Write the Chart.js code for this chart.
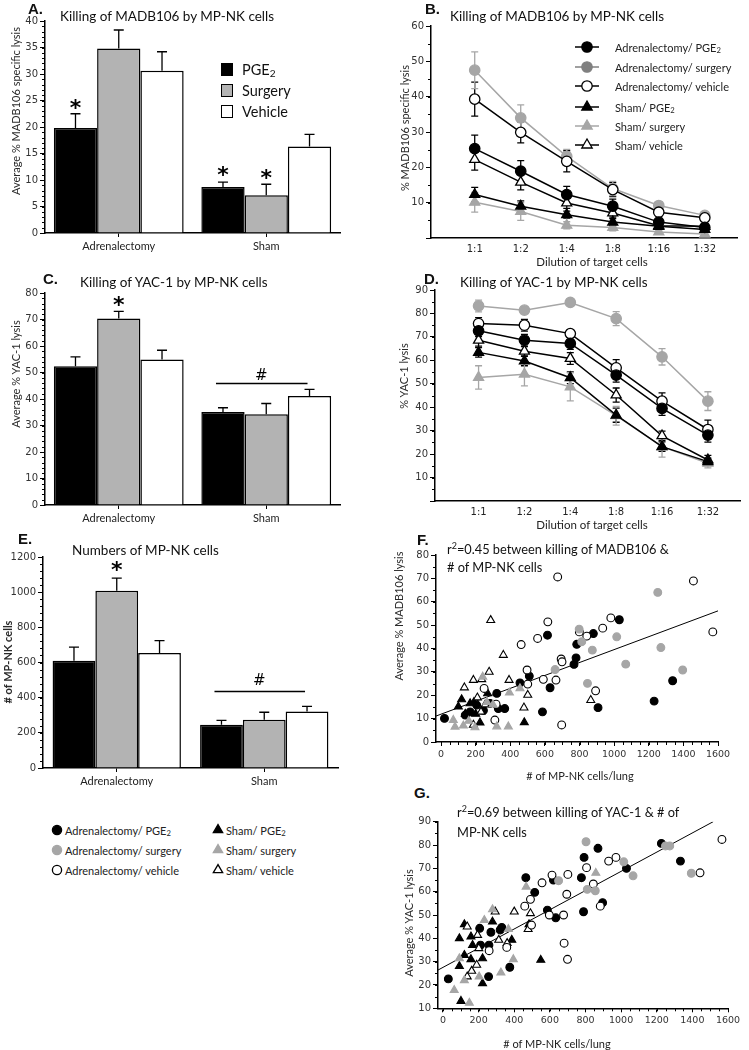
<!DOCTYPE html>
<html>
<head>
<meta charset="utf-8">
<script src="https://cdn.jsdelivr.net/npm/chart.js@4.4.0/dist/chart.umd.min.js"></script>
<style>
  body { margin: 0; background: #fff; }
  #page { position: relative; width: 749px; height: 1050px; overflow: hidden; background: #fff; font-family: Lato, sans-serif; color: #111; }
  #page canvas { position: absolute; }
  .t { position: absolute; white-space: nowrap; line-height: 1; }
  .t sub { font-size: 70%; vertical-align: -0.25em; line-height: 0; }
  .t sup { font-size: 70%; vertical-align: 0.5em; line-height: 0; }
</style>
</head>
<body>
<div id="page"></div>
<script>
// ---- data ----
const groups = ['Adrenalectomy', 'Sham'];
const barSeries = ['PGE2', 'Surgery', 'Vehicle'];

// A: average % MADB106 specific lysis
const madbPge = [19.8, 8.7];
const madbSurg = [34.8, 7.1];
const madbVeh = [30.6, 16.3];
const madbPgeSem = [2.7, 0.9];
const madbSurgSem = [3.5, 2.1];
const madbVehSem = [3.6, 2.3];

// C: average % YAC-1 lysis
const yacPge = [52.4, 35.1];
const yacSurg = [70.4, 34.2];
const yacVeh = [54.9, 41.1];
const yacPgeSem = [3.5, 1.6];
const yacSurgSem = [2.7, 4.1];
const yacVehSem = [3.5, 2.5];

// E: numbers of MP-NK cells
const nkPge = [610, 246];
const nkSurg = [1008, 275];
const nkVeh = [654, 322];
const nkPgeSem = [78, 25];
const nkSurgSem = [72, 42];
const nkVehSem = [70, 29];

// B / D: dilution curves
const dilutions = ['1:1', '1:2', '1:4', '1:8', '1:16', '1:32'];
const bAdrPge = [25.3, 18.9, 12.3, 9.0, 4.5, 3.0];
const bAdrSurg = [47.5, 34.0, 23.1, 14.0, 9.2, 6.4];
const bAdrVeh = [39.3, 29.9, 21.7, 13.7, 7.3, 5.7];
const bShamPge = [12.3, 9.0, 6.6, 4.5, 3.3, 2.4];
const bShamSurg = [10.1, 7.5, 3.6, 3.0, 1.7, 1.1];
const bShamVeh = [22.2, 15.8, 9.9, 7.1, 3.5, 3.3];
const bAdrPgeSem = [3.8, 3.0, 2.3, 2.0, 1.5, 1.0];
const bAdrSurgSem = [5.2, 3.7, 2.0, 2.0, 1.0, 0.8];
const bAdrVehSem = [4.8, 3.0, 3.0, 2.0, 1.0, 0.8];
const bShamPgeSem = [2.0, 1.5, 1.0, 1.0, 0.8, 0.5];
const bShamSurgSem = [2.8, 2.5, 1.0, 1.0, 0.5, 0.5];
const bShamVehSem = [3.0, 2.2, 1.5, 1.2, 0.8, 0.5];

const dAdrPge = [72.6, 68.6, 67.2, 53.7, 39.5, 28.1];
const dAdrSurg = [83.2, 81.4, 84.7, 77.8, 61.5, 42.6];
const dAdrVeh = [75.7, 75.0, 71.4, 56.8, 42.6, 30.5];
const dShamPge = [63.4, 59.7, 52.6, 36.6, 23.2, 16.8];
const dShamSurg = [52.7, 54.1, 48.7, 36.4, 23.2, 16.1];
const dShamVeh = [68.6, 63.9, 60.8, 45.2, 27.8, 17.5];
const dAdrPgeSem = [2.5, 2.5, 2.5, 3.0, 3.0, 3.0];
const dAdrSurgSem = [2.5, 1.5, 1.0, 3.0, 3.5, 4.0];
const dAdrVehSem = [2.5, 2.5, 1.5, 3.5, 3.5, 4.0];
const dShamPgeSem = [2.0, 2.0, 2.5, 3.0, 2.0, 1.5];
const dShamSurgSem = [5.0, 5.0, 6.0, 4.0, 4.5, 2.0];
const dShamVehSem = [2.5, 2.0, 2.5, 3.0, 2.0, 2.0];

// F: MADB106 lysis vs MP-NK cells/lung  [cells, lysis]
const fAdrPge = [[20,10.1],[322,20.8],[331,14.3],[368,14.3],[456,25.3],[510,28.2],[586,12.9],[615,45.7],[630,23.2],[768,33.2],[780,36],[784,41.8],[880,46.4],[1030,52.3],[907,14.7],[1338,26.2],[1231,17.5],[168,12.9],[206,15.8],[283,16.5],[245,13.5],[140,11.5]];
const fAdrSurg = [[659,31],[798,48.3],[813,42.9],[846,25.1],[874,39.3],[1015,45],[1067,33.3],[1252,64],[1270,40.4],[1396,30.8]];
const fAdrVeh = [[674,70.6],[617,51.4],[558,44.3],[463,41.7],[497,30.8],[501,24.8],[591,26.8],[664,26.5],[694,35.5],[699,34.3],[697,7.3],[249,22.9],[318,16.2],[311,9.4],[799,47.1],[842,45.3],[934,48.7],[981,53.1],[1458,68.9],[1570,47.1],[893,21.9]];
const fShamPge = [[119,18.2],[168,16.5],[225,8.3],[269,20.8],[481,8.4],[100,15.1],[140,12],[200,12],[190,17]];
const fShamSurg = [[81,6.5],[129,7],[196,6.2],[322,6.6],[389,6.6],[71,9.4],[241,27.9],[395,21.1],[456,22.9],[160,9],[265,17],[300,16]];
const fShamVeh = [[287,52.1],[360,37.2],[278,30],[187,26.5],[235,26.8],[135,23.3],[393,26.5],[501,20.1],[479,14.7],[231,12.9],[187,7.3],[865,17.9],[210,19],[255,16]];
const fFitX = [-29, 1600];
const fFitY = [11.1, 56.1];

// G: YAC-1 lysis vs MP-NK cells/lung
const gAdrPge = [[30,22.6],[256,23.6],[375,27.6],[465,66],[515,59.7],[586,52.1],[633,48.8],[620,65],[777,66],[792,74.7],[789,51.4],[330,44.7],[321,43.6],[269,42.6],[206,44.3],[211,37.1],[258,37.1],[870,78.6],[1030,70],[1226,80.7],[1333,73.1],[896,55.3]];
const gAdrSurg = [[803,81.4],[1015,72.8],[1067,66.8],[1249,79.6],[1273,79.6],[1394,67.9],[810,61],[855,60.4],[649,64.7]];
const gAdrVeh = [[1566,82.4],[1443,68.1],[971,74.7],[930,73.1],[806,70.3],[844,63.3],[883,53.8],[612,67.1],[701,67.4],[556,63.8],[695,58.9],[491,56.7],[459,53.8],[597,50],[677,50],[497,45.7],[680,37.9],[699,31],[259,34.7],[358,36.1]];
const gShamPge = [[92,40],[120,46],[157,40.7],[166,37.1],[278,47.1],[386,39.3],[483,46],[549,30.7],[101,13.1],[222,20.7],[92,28.1],[120,32.8],[157,31],[222,31.4]];
const gShamSurg = [[467,62.1],[278,52.4],[232,47.8],[367,43.9],[63,17.8],[148,12.3],[92,31.4],[203,23.6],[325,25.3],[395,31],[120,22],[858,68]];
const gShamVeh = [[293,51.4],[400,51.4],[491,50.7],[478,43.9],[136,45],[194,41.4],[201,35.7],[313,39.3],[360,37.9],[136,23.6],[189,28.6],[161,26]];
const gFitX = [-28, 1517];
const gFitY = [26.4, 90];

// ---- helpers ----
const page = document.getElementById('page');
const GRAY = '#a6a6a6';
const axisBorder = { color: '#000', width: 1.5 };
Chart.defaults.font.family = 'Lato, sans-serif';

function mkCanvas(box) {
  const c = document.createElement('canvas');
  c.width = box.w; c.height = box.h;
  c.style.left = box.x + 'px'; c.style.top = box.y + 'px';
  c.style.width = box.w + 'px'; c.style.height = box.h + 'px';
  page.appendChild(c);
  return c;
}

function txt(html, x, y, css, anchor) {
  const d = document.createElement('div');
  d.className = 't';
  d.innerHTML = html;
  d.style.cssText += css || '';
  d.style.left = x + 'px';
  d.style.top = y + 'px';
  if (anchor === 'c') d.style.transform = 'translate(-50%,-50%)';
  else if (anchor === 'v') d.style.transform = 'translate(-50%,-50%) rotate(-90deg)';
  else d.style.transform = 'translateY(-50%)';
  page.appendChild(d);
}

// error bars (SEM) drawn from each dataset's "sem" array
const errorBars = {
  id: 'errorBars',
  beforeDatasetsDraw(chart) {
    const ctx = chart.ctx;
    chart.data.datasets.forEach((ds, i) => {
      if (!ds.sem) return;
      const meta = chart.getDatasetMeta(i);
      const ys = chart.scales[meta.yAxisID];
      ctx.save();
      ctx.strokeStyle = ds.semColor || '#000';
      ctx.lineWidth = 1.3;
      meta.data.forEach((el, j) => {
        const raw = ds.data[j];
        const v = typeof raw === 'object' ? raw.y : raw;
        const e = ds.sem[j];
        const top = ys.getPixelForValue(v + e);
        const bot = ys.getPixelForValue(ds.semBoth ? v - e : v);
        const cap = ds.semCap || 5;
        ctx.beginPath();
        ctx.moveTo(el.x, top); ctx.lineTo(el.x, bot);
        ctx.moveTo(el.x - cap, top); ctx.lineTo(el.x + cap, top);
        if (ds.semBoth) { ctx.moveTo(el.x - cap, bot); ctx.lineTo(el.x + cap, bot); }
        ctx.stroke();
      });
      ctx.restore();
    });
  }
};

// small minor ticks outside the axes
const minorTicks = {
  id: 'minorTicks',
  afterDraw(chart, args, opts) {
    const ctx = chart.ctx, a = chart.chartArea;
    ctx.save();
    ctx.strokeStyle = '#000';
    ctx.lineWidth = 1;
    if (opts.y) {
      const s = chart.scales.y;
      for (let v = s.min; v <= s.max + 1e-9; v += opts.y) {
        const p = Math.round(s.getPixelForValue(v)) + 0.5;
        ctx.beginPath(); ctx.moveTo(a.left - 3, p); ctx.lineTo(a.left, p); ctx.stroke();
      }
    }
    if (opts.x) {
      const s = chart.scales.x;
      for (let v = Math.ceil(s.min / opts.x) * opts.x; v <= s.max + 1e-9; v += opts.x) {
        const p = Math.round(s.getPixelForValue(v)) + 0.5;
        ctx.beginPath(); ctx.moveTo(p, a.bottom); ctx.lineTo(p, a.bottom + 3); ctx.stroke();
      }
    }
    ctx.restore();
  }
};

// significance marks: asterisks over bars, "#" with a bar over the sham group
const marks = {
  id: 'marks',
  afterDatasetsDraw(chart, args, opts) {
    const ctx = chart.ctx, ys = chart.scales.y;
    ctx.save();
    ctx.fillStyle = '#000';
    ctx.strokeStyle = '#000';
    ctx.textAlign = 'center';
    ctx.textBaseline = 'middle';
    (opts.stars || []).forEach(m => {
      const el = chart.getDatasetMeta(m[0]).data[m[1]];
      ctx.font = 'bold 22px "DejaVu Sans"';
      ctx.fillText('*', el.x, ys.getPixelForValue(m[2]) + 5);
    });
    if (opts.hash) {
      const a = chart.getDatasetMeta(0).data[1];
      const g = chart.getDatasetMeta(1).data[1];
      const b = chart.getDatasetMeta(2).data[1];
      const ly = Math.round(ys.getPixelForValue(opts.hash[1])) + 0.5;
      ctx.lineWidth = 1.3;
      ctx.beginPath(); ctx.moveTo(a.x - 7, ly); ctx.lineTo(b.x - 2, ly); ctx.stroke();
      ctx.font = '15px "DejaVu Sans"';
      ctx.fillText('#', g.x - 5, ys.getPixelForValue(opts.hash[0]));
    }
    ctx.restore();
  }
};

function baseOptions(box, plot, scales, pluginOpts) {
  return {
    responsive: false,
    animation: false,
    devicePixelRatio: 1,
    layout: { padding: { left: 0, top: plot.t - box.y, right: box.x + box.w - plot.r, bottom: 0 } },
    plugins: Object.assign({ legend: { display: false }, tooltip: { enabled: false } }, pluginOpts || {}),
    scales: scales
  };
}

function yScale(box, plot, min, max, step, cb) {
  return {
    min: min, max: max,
    ticks: { stepSize: step, color: '#333', font: { family: 'DejaVu Sans', size: 10 }, padding: 2, callback: cb || (v => v) },
    grid: { drawOnChartArea: false, tickLength: 5, color: '#000' },
    border: axisBorder,
    afterFit: s => { s.width = plot.l - box.x; }
  };
}

function barPanel(box, plot, vals, sems, yMax, yStep, minor, catPct, markOpts) {
  const fills = ['#000', '#b3b3b3', '#fff'];
  return new Chart(mkCanvas(box), {
    type: 'bar',
    data: {
      labels: groups,
      datasets: barSeries.map((name, k) => ({
        label: name, data: vals[k], sem: sems[k],
        backgroundColor: fills[k], borderColor: '#000', borderWidth: 1.5,
        categoryPercentage: catPct, barPercentage: 1
      }))
    },
    options: baseOptions(box, plot, {
      x: {
        grid: { offset: false, drawOnChartArea: false, tickLength: 4, color: '#000' },
        border: axisBorder,
        ticks: { color: '#222', font: { family: 'Lato', size: 11 }, padding: 3 },
        afterFit: s => { s.height = box.y + box.h - plot.b; }
      },
      y: yScale(box, plot, 0, yMax, yStep)
    }, { minorTicks: { y: minor }, marks: markOpts }),
    plugins: [errorBars, minorTicks, marks]
  });
}

function dilutionPanel(box, plot, series, yMax) {
  return new Chart(mkCanvas(box), {
    type: 'line',
    data: {
      datasets: series.map(s => ({
        data: s.v.map((y, i) => ({ x: i, y: y })),
        sem: s.e, semBoth: true, semCap: 3.5, semColor: s.line,
        borderColor: s.line, borderWidth: 1.5,
        pointStyle: s.shape, pointRadius: s.shape === 'triangle' ? 5.8 : 5.2,
        pointBackgroundColor: s.fill, pointBorderColor: s.edge, pointBorderWidth: 1.3,
        order: s.order || 1
      }))
    },
    options: baseOptions(box, plot, {
      x: {
        type: 'linear', min: -0.95, max: 5.7,
        afterBuildTicks: s => { s.ticks = dilutions.map((d, i) => ({ value: i })); },
        ticks: { callback: v => dilutions[v], color: '#222', font: { family: 'DejaVu Sans', size: 10 }, padding: 5 },
        grid: { drawOnChartArea: false, drawTicks: false },
        border: axisBorder,
        afterFit: s => { s.height = box.y + box.h - plot.b; }
      },
      y: yScale(box, plot, 0, yMax, 10, v => (v === 0 ? '' : v))
    }, { minorTicks: { y: 5 } }),
    plugins: [errorBars, minorTicks]
  });
}

function scatterPanel(box, plot, sets, fitX, fitY, yMin, yMax, xMin) {
  const datasets = sets.map(s => ({
    type: 'scatter',
    data: s.pts.map(p => ({ x: p[0], y: p[1] })),
    pointStyle: s.shape, pointRadius: s.shape === 'triangle' ? 4.6 : 3.9,
    backgroundColor: s.fill, borderColor: s.edge, borderWidth: 1.1
  }));
  datasets.push({
    type: 'line', data: fitX.map((x, i) => ({ x: x, y: fitY[i] })),
    borderColor: '#000', borderWidth: 1, pointRadius: 0
  });
  return new Chart(mkCanvas(box), {
    type: 'scatter',
    data: { datasets: datasets },
    options: baseOptions(box, plot, {
      x: {
        type: 'linear', min: xMin, max: 1600,
        afterBuildTicks: s => { const t = []; for (let v = 0; v <= 1600; v += 200) t.push({ value: v }); s.ticks = t; },
        ticks: { color: '#333', font: { family: 'DejaVu Sans', size: 9.5 }, padding: 3, maxRotation: 0, callback: v => v },
        grid: { drawOnChartArea: false, tickLength: 4, color: '#000' },
        border: axisBorder,
        afterFit: s => { s.height = box.y + box.h - plot.b; }
      },
      y: yScale(box, plot, yMin, yMax, 10)
    }, { minorTicks: { y: 5, x: 50 } }),
    plugins: [minorTicks]
  });
}

const styles = {
  adrPge: { shape: 'circle', fill: '#000', edge: '#000', line: '#000' },
  adrSurg: { shape: 'circle', fill: GRAY, edge: GRAY, line: GRAY, order: 2 },
  adrVeh: { shape: 'circle', fill: '#fff', edge: '#000', line: '#000' },
  shamPge: { shape: 'triangle', fill: '#000', edge: '#000', line: '#000' },
  shamSurg: { shape: 'triangle', fill: GRAY, edge: GRAY, line: GRAY, order: 2 },
  shamVeh: { shape: 'triangle', fill: '#fff', edge: '#000', line: '#000' }
};
const st = (k, extra) => Object.assign({}, styles[k], extra);

// ---- panels ----
// A
barPanel({ x: 20, y: 8, w: 335, h: 252 }, { l: 45, t: 21, r: 340, b: 233 },
  [madbPge, madbSurg, madbVeh], [madbPgeSem, madbSurgSem, madbVehSem], 40, 5, 1, 0.88,
  { stars: [[0, 0, 24.3], [0, 1, 11.6], [1, 1, 11.1]] });

// B
dilutionPanel({ x: 405, y: 18, w: 344, h: 240 }, { l: 431, t: 26, r: 737, b: 238 }, [
  st('adrPge', { v: bAdrPge, e: bAdrPgeSem }),
  st('adrVeh', { v: bAdrVeh, e: bAdrVehSem }),
  st('shamPge', { v: bShamPge, e: bShamPgeSem }),
  st('shamVeh', { v: bShamVeh, e: bShamVehSem }),
  st('adrSurg', { v: bAdrSurg, e: bAdrSurgSem }),
  st('shamSurg', { v: bShamSurg, e: bShamSurgSem })
], 60);

// C
barPanel({ x: 20, y: 283, w: 335, h: 252 }, { l: 45, t: 293, r: 340, b: 505 },
  [yacPge, yacSurg, yacVeh], [yacPgeSem, yacSurgSem, yacVehSem], 80, 10, 2, 0.88,
  { stars: [[1, 0, 77]], hash: [48.7, 46] });

// D
dilutionPanel({ x: 405, y: 282, w: 344, h: 240 }, { l: 435, t: 290, r: 740, b: 501 }, [
  st('adrPge', { v: dAdrPge, e: dAdrPgeSem }),
  st('adrVeh', { v: dAdrVeh, e: dAdrVehSem }),
  st('shamPge', { v: dShamPge, e: dShamPgeSem }),
  st('shamVeh', { v: dShamVeh, e: dShamVehSem }),
  st('adrSurg', { v: dAdrSurg, e: dAdrSurgSem }),
  st('shamSurg', { v: dShamSurg, e: dShamSurgSem })
], 90);

// E
barPanel({ x: 8, y: 548, w: 347, h: 250 }, { l: 43, t: 557, r: 338, b: 768 },
  [nkPge, nkSurg, nkVeh], [nkPgeSem, nkSurgSem, nkVehSem], 1200, 200, 40, 0.87,
  { stars: [[1, 0, 1145]], hash: [495, 438] });

// F
scatterPanel({ x: 405, y: 545, w: 344, h: 220 }, { l: 436, t: 555, r: 718, b: 742 }, [
  st('adrSurg', { pts: fAdrSurg }), st('shamSurg', { pts: fShamSurg }),
  st('adrVeh', { pts: fAdrVeh }), st('shamVeh', { pts: fShamVeh }),
  st('adrPge', { pts: fAdrPge }), st('shamPge', { pts: fShamPge })
], fFitX, fFitY, 0, 80, -29);

// G
scatterPanel({ x: 405, y: 812, w: 344, h: 225 }, { l: 438, t: 821.7, r: 728, b: 1008.3 }, [
  st('adrSurg', { pts: gAdrSurg }), st('shamSurg', { pts: gShamSurg }),
  st('adrVeh', { pts: gAdrVeh }), st('shamVeh', { pts: gShamVeh }),
  st('adrPge', { pts: gAdrPge }), st('shamPge', { pts: gShamPge })
], gFitX, gFitY, 10, 90, -28);

// ---- text ----
const letter = 'font:bold 15px "Liberation Sans";color:#111;';
const title = 'font-size:13.5px;color:#111;';
const ytl = 'font-size:11px;color:#2a2a2a;';
txt('A.', 28, 8, letter); txt('B.', 425, 8, letter); txt('C.', 43, 278, letter);
txt('D.', 424, 278, letter); txt('E.', 18, 538, letter); txt('F.', 417, 539, letter);
txt('G.', 414, 792, letter);

txt('Killing of MADB106 by MP-NK cells', 60, 17, title);
txt('Killing of MADB106 by MP-NK cells', 450, 17, title);
txt('Killing of YAC-1 by MP-NK cells', 80, 283, title);
txt('Killing of YAC-1 by MP-NK cells', 460, 283, title);
txt('Numbers of MP-NK cells', 72, 551, title);
txt('r<sup>2</sup>=0.45 between killing of MADB106 &amp;', 447, 549, 'font-size:12.8px;color:#111;');
txt('# of MP-NK cells', 447, 567, 'font-size:12.8px;color:#111;');
txt('r<sup>2</sup>=0.69 between killing of YAC-1 &amp; # of', 457, 812, 'font-size:12.8px;color:#111;');
txt('MP-NK cells', 457, 832, 'font-size:12.8px;color:#111;');

txt('Average % MADB106 specific lysis', 15, 111, ytl, 'v');
txt('% MADB106 specific lysis', 404, 128, ytl, 'v');
txt('Average % YAC-1 lysis', 15, 374, ytl, 'v');
txt('% YAC-1 lysis', 403, 376, ytl, 'v');
txt('# of MP-NK cells', 7, 662, ytl + 'font-weight:bold;', 'v');
txt('Average % MADB106 lysis', 398, 616, ytl, 'v');
txt('Average % YAC-1 lysis', 408, 923, ytl, 'v');

txt('Dilution of target cells', 592, 262, 'font-size:11.5px;color:#222;', 'c');
txt('Dilution of target cells', 592, 525, 'font-size:11.5px;color:#222;', 'c');
txt('# of MP-NK cells/lung', 580, 775, 'font-size:11px;color:#222;', 'c');
txt('# of MP-NK cells/lung', 557, 1043, 'font-size:11px;color:#222;', 'c');

// legend in A
const sq = [['#000', 70, 'PGE<sub>2</sub>'], ['#b3b3b3', 91, 'Surgery'], ['#fff', 111.5, 'Vehicle']];
sq.forEach(s => {
  const d = document.createElement('div');
  d.style.cssText = 'position:absolute;left:221px;width:10px;height:11px;border:1.5px solid #000;background:' + s[0] + ';top:' + (s[1] - 7) + 'px';
  page.appendChild(d);
  txt(s[2], 242, s[1], 'font-size:14.5px;color:#111;');
});

// marker svg helpers
function markerSvg(shape, fill, edge, cx, cy, r) {
  if (shape === 'circle') return '<circle cx="' + cx + '" cy="' + cy + '" r="' + r + '" fill="' + fill + '" stroke="' + edge + '" stroke-width="1.3"/>';
  const w = r * 0.866 * 2;
  const pts = [cx + ',' + (cy - r), (cx - w / 2) + ',' + (cy + r / 2), (cx + w / 2) + ',' + (cy + r / 2)].join(' ');
  return '<polygon points="' + pts + '" fill="' + fill + '" stroke="' + edge + '" stroke-width="1.3"/>';
}
function addSvg(x, y, w, h, inner) {
  const d = document.createElement('div');
  d.style.cssText = 'position:absolute;left:' + x + 'px;top:' + y + 'px;';
  d.innerHTML = '<svg width="' + w + '" height="' + h + '" xmlns="http://www.w3.org/2000/svg">' + inner + '</svg>';
  page.appendChild(d);
}

// legend in B
const bLegend = [
  ['adrPge', 47, 'Adrenalectomy/ PGE<sub>2</sub>', '#000'],
  ['adrSurg', 67, 'Adrenalectomy/ surgery', '#808080'],
  ['adrVeh', 86, 'Adrenalectomy/ vehicle', '#000'],
  ['shamPge', 107, 'Sham/ PGE<sub>2</sub>', '#000'],
  ['shamSurg', 126, 'Sham/ surgery', GRAY],
  ['shamVeh', 145, 'Sham/ vehicle', '#000']
];
let inner = '';
bLegend.forEach(r => {
  const s = styles[r[0]];
  const y = r[1] - 35;
  const fill = s.fill === GRAY ? r[3] : s.fill;
  const edge = s.edge === GRAY ? r[3] : s.edge;
  inner += '<line x1="5" y1="' + y + '" x2="29" y2="' + y + '" stroke="' + r[3] + '" stroke-width="1.5"/>';
  inner += markerSvg(s.shape, fill, edge, 17, y, s.shape === 'circle' ? 5.2 : 6);
  txt(r[2], 615, r[1], 'font-size:11px;color:#222;');
});
addSvg(570, 35, 40, 125, inner);

// bottom legend
const botLegend = [
  ['adrPge', 57, 830, 'Adrenalectomy/ PGE<sub>2</sub>'],
  ['adrSurg', 57, 850, 'Adrenalectomy/ surgery'],
  ['adrVeh', 57, 870, 'Adrenalectomy/ vehicle'],
  ['shamPge', 218, 830, 'Sham/ PGE<sub>2</sub>'],
  ['shamSurg', 218, 850, 'Sham/ surgery'],
  ['shamVeh', 218, 870, 'Sham/ vehicle']
];
inner = '';
botLegend.forEach(r => {
  const s = styles[r[0]];
  inner += markerSvg(s.shape, s.fill, s.edge, r[1] - 40, r[2] - 815, s.shape === 'circle' ? 4.6 : 5.4);
  txt(r[3], r[1] + 8, r[2], 'font-size:11px;color:#222;');
});
addSvg(40, 815, 200, 70, inner);
</script>
</body>
</html>
